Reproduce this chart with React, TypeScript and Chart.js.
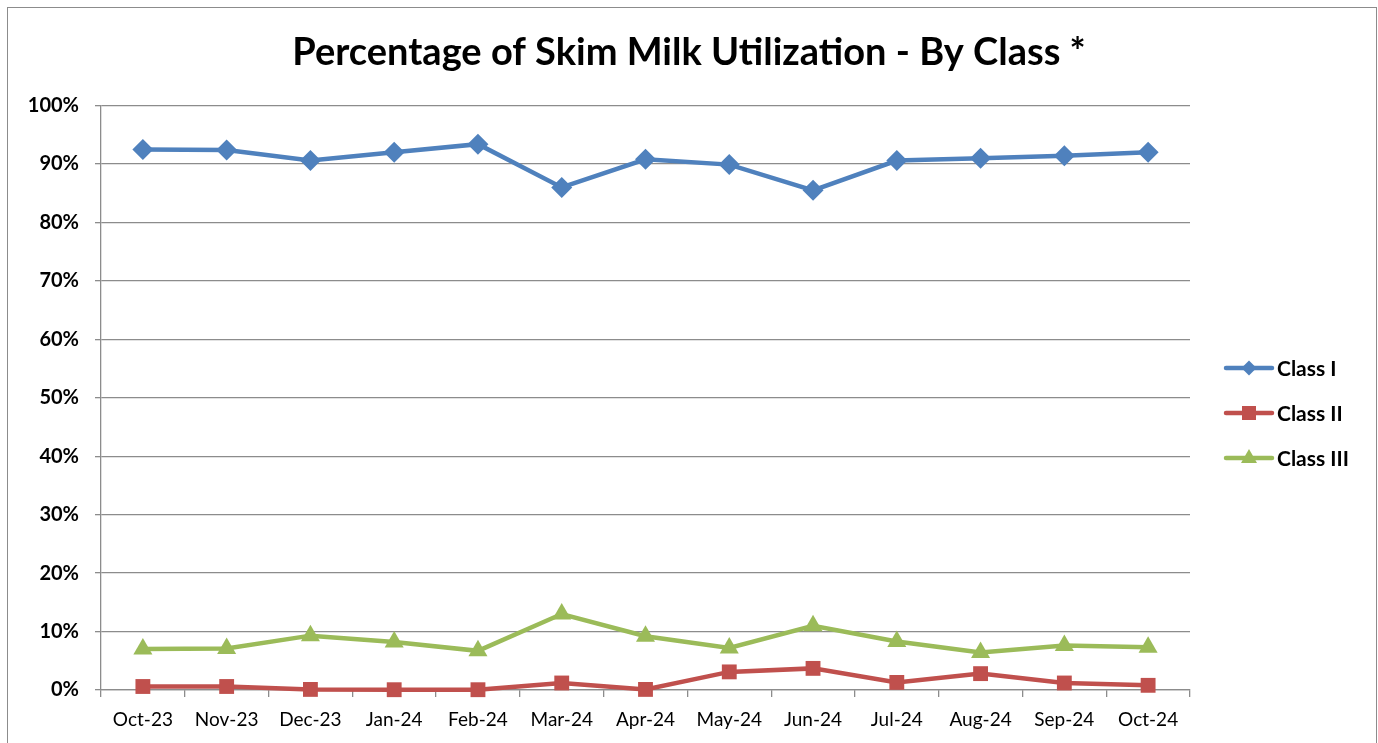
import React, { useEffect, useRef } from "react";
import { Chart, registerables } from "chart.js";

Chart.register(...registerables);

const months = ["Oct-23","Nov-23","Dec-23","Jan-24","Feb-24","Mar-24","Apr-24","May-24","Jun-24","Jul-24","Aug-24","Sep-24","Oct-24"];
const classI = [92.5, 92.4, 90.6, 92.0, 93.4, 86.0, 90.8, 89.9, 85.5, 90.6, 91.0, 91.4, 92.0];
const classII = [0.6, 0.6, 0.1, 0.05, 0.05, 1.2, 0.1, 3.1, 3.7, 1.3, 2.8, 1.2, 0.8];
const classIII = [7.0, 7.1, 9.3, 8.2, 6.7, 13.0, 9.2, 7.2, 11.0, 8.3, 6.4, 7.6, 7.3];
const yTicks = [0, 10, 20, 30, 40, 50, 60, 70, 80, 90, 100];
const titleText = "Percentage of Skim Milk Utilization - By Class *";

const FONT = "Lato, 'Open Sans', sans-serif";
const BLUE = "#4F81BD";
const RED = "#C0504D";
const GREEN = "#9BBB59";
const GRID = "#8C8C8C";

const legendPlugin = {
  id: "customLegend",
  afterDraw(chart: any) {
    const ctx = chart.ctx;
    const area = chart.chartArea;
    const x0 = area.right + 36;
    const y0 = 368;
    chart.data.datasets.forEach((ds: any, i: number) => {
      const y = y0 + i * 45;
      ctx.save();
      ctx.strokeStyle = ds.borderColor;
      ctx.lineWidth = 4.5;
      ctx.lineCap = "round";
      ctx.beginPath();
      ctx.moveTo(x0, y);
      ctx.lineTo(x0 + 46, y);
      ctx.stroke();
      ctx.fillStyle = ds.backgroundColor;
      const cx = x0 + 23;
      ctx.beginPath();
      if (ds.pointStyle === "rectRot") {
        ctx.moveTo(cx, y - 7.5);
        ctx.lineTo(cx + 7.5, y);
        ctx.lineTo(cx, y + 7.5);
        ctx.lineTo(cx - 7.5, y);
      } else if (ds.pointStyle === "rect") {
        ctx.rect(cx - 7, y - 7, 14, 14);
      } else {
        ctx.moveTo(cx, y - 9);
        ctx.lineTo(cx + 8, y + 5);
        ctx.lineTo(cx - 8, y + 5);
      }
      ctx.closePath();
      ctx.fill();
      ctx.fillStyle = "#000";
      ctx.font = `bold 21px ${FONT}`;
      ctx.textBaseline = "middle";
      ctx.textAlign = "left";
      ctx.fillText(ds.label, x0 + 51, y + 1);
      ctx.restore();
    });
  },
};

export default function App() {
  const ref = useRef<HTMLCanvasElement>(null);
  useEffect(() => {
    const chart = new Chart(ref.current as HTMLCanvasElement, {
      type: "line",
      data: {
        labels: months,
        datasets: [
          { label: "Class I", data: classI, borderColor: BLUE, backgroundColor: BLUE, pointStyle: "rectRot", pointRadius: 10.5, borderWidth: 4.5, pointBorderWidth: 0, tension: 0, clip: false },
          { label: "Class II", data: classII, borderColor: RED, backgroundColor: RED, pointStyle: "rect", pointRadius: 10.5, borderWidth: 4.5, pointBorderWidth: 0, tension: 0, clip: false },
          { label: "Class III", data: classIII, borderColor: GREEN, backgroundColor: GREEN, pointStyle: "triangle", pointRadius: 11, borderWidth: 4.5, pointBorderWidth: 0, tension: 0, clip: false },
        ],
      },
      options: {
        animation: false,
        responsive: false,
        devicePixelRatio: 1,
        layout: { padding: 0 },
        plugins: {
          legend: { display: false },
          tooltip: { enabled: false },
          title: {
            display: true,
            text: titleText,
            color: "#000",
            font: { family: FONT, size: 38, weight: "bold", lineHeight: 1.2 },
            padding: { top: 30, bottom: 30 },
          },
        },
        scales: {
          x: {
            offset: true,
            grid: { display: true, offset: true, drawOnChartArea: false, drawTicks: true, tickLength: 7, color: GRID, lineWidth: 1.3 },
            border: { display: true, color: GRID, width: 1.3 },
            ticks: { color: "#000", font: { family: FONT, size: 19 }, padding: 11, maxRotation: 0, autoSkip: false },
            afterFit(scale: any) { scale.height = 53; },
          },
          y: {
            min: 0,
            max: 100,
            afterBuildTicks(scale: any) { scale.ticks = yTicks.map((v) => ({ value: v })); },
            grid: { color: GRID, lineWidth: 1.3, tickLength: 6, drawTicks: true },
            border: { display: true, color: GRID, width: 1.3 },
            ticks: { color: "#000", font: { family: FONT, size: 20, weight: "bold" }, padding: 16, callback: (v: any) => `${v}%` },
            afterFit(scale: any) { scale.width = 101; },
          },
          legendSpace: {
            type: "linear",
            position: "right",
            display: true,
            grid: { display: false, drawTicks: false },
            border: { display: false },
            ticks: { display: false },
            afterFit(scale: any) { scale.width = 188; },
          },
        },
      },
      plugins: [legendPlugin],
    });
    return () => chart.destroy();
  }, []);
  return (
    <div style={{ position: "absolute", left: 0, top: 0, width: 1378, height: 743, overflow: "hidden", background: "#fff" }}>
      <div style={{ position: "absolute", left: 7, top: 7, width: 1368, height: 760, border: "1px solid #8C8C8C" }} />
      <canvas ref={ref} width={1378} height={743} style={{ position: "absolute", left: 0, top: 0 }} />
    </div>
  );
}
